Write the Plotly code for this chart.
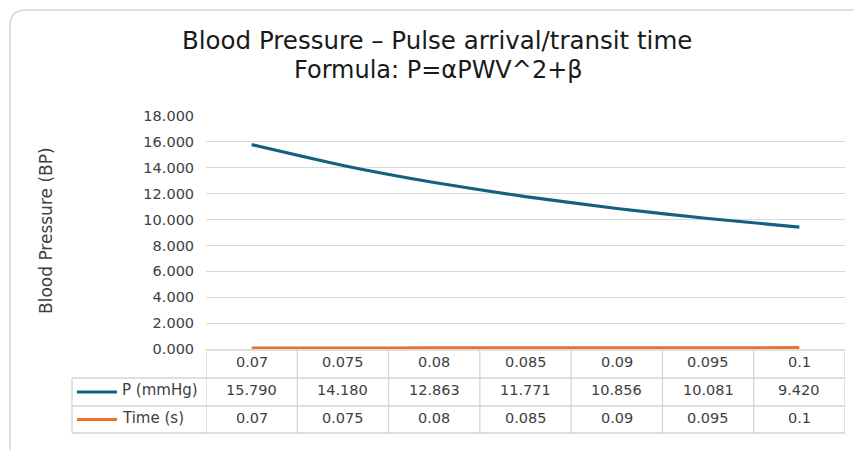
import plotly.graph_objects as go

categories = ["0.07", "0.075", "0.08", "0.085", "0.09", "0.095", "0.1"]
p_values = [15.790, 14.180, 12.863, 11.771, 10.856, 10.081, 9.420]
time_values = [0.07, 0.075, 0.08, 0.085, 0.09, 0.095, 0.1]
time_labels = ["0.07", "0.075", "0.08", "0.085", "0.09", "0.095", "0.1"]
series_names = ["P (mmHg)", "Time (s)"]
y_ticks = [0, 2, 4, 6, 8, 10, 12, 14, 16, 18]

BLUE = "#156082"
ORANGE = "#E97132"
GRID = "#d9d9d9"
TXT = "#404040"
FONT = "DejaVu Sans, sans-serif"

W, H = 854, 450
L, R, T, B = 206, 845, 116, 349


def xp(px):
    return (px - L) / (R - L)


def yp(py):
    return (B - py) / (B - T)


idx = list(range(len(categories)))

fig = go.Figure()
fig.add_trace(go.Scatter(x=idx, y=p_values, mode="lines", name=series_names[0],
                         line=dict(color=BLUE, width=3.2, shape="spline", smoothing=0.6),
                         hoverinfo="skip"))
fig.add_trace(go.Scatter(x=idx, y=time_values, mode="lines", name=series_names[1],
                         line=dict(color=ORANGE, width=3.2, shape="spline"),
                         hoverinfo="skip"))

shapes = []
ann = []

# card border
r = 16
x0, y0, x1, y1 = 10, 10, 880, 470
path = (f"M {xp(x0+r)},{yp(y0)} L {xp(x1)},{yp(y0)} L {xp(x1)},{yp(y1)} "
        f"L {xp(x0+r)},{yp(y1)} Q {xp(x0)},{yp(y1)} {xp(x0)},{yp(y1-r)} "
        f"L {xp(x0)},{yp(y0+r)} Q {xp(x0)},{yp(y0)} {xp(x0+r)},{yp(y0)} Z")
shapes.append(dict(type="path", path=path, xref="paper", yref="paper",
                   line=dict(color="#d6d6d6", width=1.5), layer="below"))

# data table grid
row_tops = [350, 378, 406, 433]
lc = dict(color="#d4d4d4", width=1.3)
shapes.append(dict(type="line", xref="paper", yref="paper", x0=xp(L), x1=xp(R),
                   y0=yp(row_tops[0]), y1=yp(row_tops[0]), line=lc))
for yy in row_tops[1:]:
    shapes.append(dict(type="line", xref="paper", yref="paper", x0=xp(72), x1=xp(R),
                       y0=yp(yy), y1=yp(yy), line=lc))
for i in range(len(categories) + 1):
    shapes.append(dict(type="line", xref="x", yref="paper", x0=i - 0.5, x1=i - 0.5,
                       y0=yp(row_tops[0]), y1=yp(row_tops[3]), line=lc))
shapes.append(dict(type="line", xref="paper", yref="paper", x0=xp(72), x1=xp(72),
                   y0=yp(row_tops[1]), y1=yp(row_tops[3]), line=lc))

# legend keys
for k, col in enumerate([BLUE, ORANGE]):
    yc = (row_tops[k + 1] + row_tops[k + 2]) / 2
    shapes.append(dict(type="line", xref="paper", yref="paper", x0=xp(77), x1=xp(117),
                       y0=yp(yc), y1=yp(yc), line=dict(color=col, width=3.2)))
    ann.append(dict(text=series_names[k], xref="paper", yref="paper", x=xp(120), y=yp(yc - 2),
                    xanchor="left", yanchor="middle", showarrow=False,
                    font=dict(size=15, color=TXT, family=FONT)))

rows = [categories, [f"{v:.3f}" for v in p_values], time_labels]
for rI, vals in enumerate(rows):
    yc = (row_tops[rI] + row_tops[rI + 1]) / 2 - 2
    for i, v in enumerate(vals):
        ann.append(dict(text=v, xref="x", yref="paper", x=i, y=yp(yc),
                        xanchor="center", yanchor="middle", showarrow=False,
                        font=dict(size=14.5, color=TXT, family=FONT)))

# titles
ann.append(dict(text="Blood Pressure – Pulse arrival/transit time", xref="paper", yref="paper",
                x=xp(437), y=yp(40), xanchor="center", yanchor="middle", showarrow=False,
                font=dict(size=24.5, color="#1a1a1a", family=FONT)))
ann.append(dict(text="Formula: P=αPWV^2+β", xref="paper", yref="paper",
                x=xp(438), y=yp(70), xanchor="center", yanchor="middle", showarrow=False,
                font=dict(size=24, color="#1a1a1a", family=FONT)))
ann.append(dict(text="Blood Pressure (BP)", xref="paper", yref="paper",
                x=xp(46), y=yp(231), xanchor="center", yanchor="middle", showarrow=False,
                textangle=-90, font=dict(size=17, color=TXT, family=FONT)))

fig.update_layout(
    width=W, height=H,
    margin=dict(l=L, r=W - R, t=T, b=H - B),
    paper_bgcolor="white", plot_bgcolor="white",
    showlegend=False,
    shapes=shapes, annotations=ann,
    xaxis=dict(range=[-0.5, len(categories) - 0.5], showticklabels=False, showgrid=False,
               zeroline=False, showline=False, fixedrange=True),
    yaxis=dict(range=[0, 18], tickvals=y_ticks, tickformat=".3f",
               showgrid=True, gridcolor=GRID, gridwidth=1.3, zeroline=False, showline=False,
               ticks="outside", ticklen=8, tickcolor="rgba(0,0,0,0)",
               tickfont=dict(size=14.5, color=TXT, family=FONT), fixedrange=True),
)

fig.write_html("out.html", config={"displayModeBar": False},
               post_script="document.body.style.margin='0';document.body.style.overflow='hidden';")
